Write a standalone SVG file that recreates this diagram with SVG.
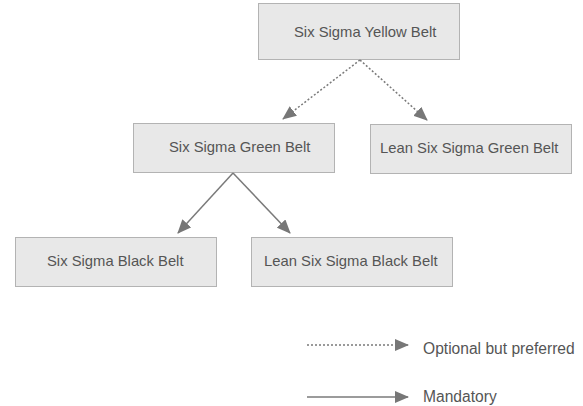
<svg xmlns="http://www.w3.org/2000/svg" width="583" height="406" viewBox="0 0 583 406">
<style>
.box{fill:#e8e8e8;stroke:#b3b3b3;stroke-width:1}
.lbl{font-family:"Liberation Sans",Arial,sans-serif;font-size:14.8px;fill:#555}
.leg{font-size:15.6px}
.c{stroke:#7a7a7a;stroke-width:1.5;fill:none}
.d{stroke-dasharray:2 2}
</style>
<defs>
<marker id="ah" markerWidth="14" markerHeight="12" refX="13" refY="6" orient="auto" markerUnits="userSpaceOnUse">
<path d="M0,0 L14,6 L0,12 Z" fill="#777"/>
</marker>
</defs>
<rect width="583" height="406" fill="#fff"/>
<g id="yellow"><rect class="box" x="258.5" y="3.5" width="201" height="56"/><text class="lbl" x="294" y="37">Six Sigma Yellow Belt</text></g>
<g id="green"><rect class="box" x="133.5" y="123.5" width="201" height="49"/><text class="lbl" x="169" y="152">Six Sigma Green Belt</text></g>
<g id="leangreen"><rect class="box" x="370.5" y="124.5" width="201" height="49"/><text class="lbl" x="380" y="153">Lean Six Sigma Green Belt</text></g>
<g id="black"><rect class="box" x="15.5" y="237.5" width="201" height="49"/><text class="lbl" x="47" y="266">Six Sigma Black Belt</text></g>
<g id="leanblack"><rect class="box" x="251.5" y="237.5" width="201" height="49"/><text class="lbl" x="264" y="266">Lean Six Sigma Black Belt</text></g>
<g id="connectors">
<line class="c d" x1="360" y1="60" x2="283" y2="119" marker-end="url(#ah)"/>
<line class="c d" x1="360" y1="60" x2="427" y2="120" marker-end="url(#ah)"/>
<line class="c" x1="233" y1="173" x2="178" y2="233" marker-end="url(#ah)"/>
<line class="c" x1="233" y1="173" x2="290" y2="233" marker-end="url(#ah)"/>
</g>
<g id="legend">
<line class="c d" x1="307" y1="345" x2="408" y2="345" marker-end="url(#ah)"/>
<text class="lbl leg" x="423" y="354">Optional but preferred</text>
<line class="c" x1="307" y1="397" x2="408" y2="397" marker-end="url(#ah)"/>
<text class="lbl leg" x="423" y="402">Mandatory</text>
</g>
</svg>
